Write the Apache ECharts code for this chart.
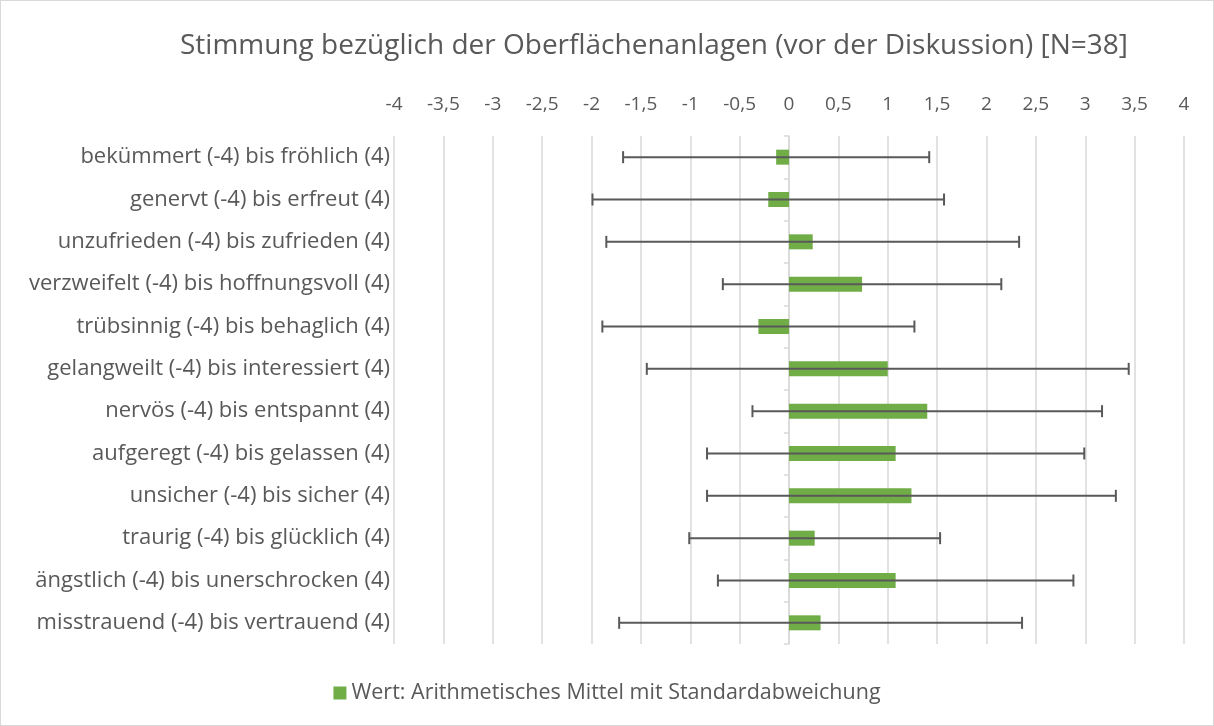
<!DOCTYPE html>
<html>
<head>
<meta charset="utf-8">
<script src="https://cdn.jsdelivr.net/npm/echarts@6/dist/echarts.min.js"></script>
<style>
	html, body { margin: 0; padding: 0; background: #fff; }
	#chart { width: 1212px; height: 724px; border: 1px solid #d9d9d9; }
</style>
</head>
<body>
<div id="chart"></div>
<script>
"use strict";
// Kategorien (von oben nach unten)
var categories = [ 'bekümmert (-4) bis fröhlich (4)', 'genervt (-4) bis erfreut (4)',
		'unzufrieden (-4) bis zufrieden (4)', 'verzweifelt (-4) bis hoffnungsvoll (4)',
		'trübsinnig (-4) bis behaglich (4)', 'gelangweilt (-4) bis interessiert (4)',
		'nervös (-4) bis entspannt (4)', 'aufgeregt (-4) bis gelassen (4)',
		'unsicher (-4) bis sicher (4)', 'traurig (-4) bis glücklich (4)',
		'ängstlich (-4) bis unerschrocken (4)', 'misstrauend (-4) bis vertrauend (4)' ];

// Arithmetisches Mittel
var means = [ -0.13, -0.21, 0.24, 0.74, -0.31, 1.0, 1.4, 1.08, 1.24, 0.26, 1.08, 0.32 ];

// Standardabweichung
var sds = [ 1.55, 1.78, 2.09, 1.41, 1.58, 2.44, 1.77, 1.91, 2.07, 1.27, 1.8, 2.04 ];

var seriesName = 'Wert: Arithmetisches Mittel mit Standardabweichung';
var titleText = 'Stimmung bezüglich der Oberflächenanlagen (vor der Diskussion) [N=38]';

var font = 'Open Sans';
var textColor = '#595959';

var errData = categories.map(function(c, i) {
	return [ i, means[i] - sds[i], means[i] + sds[i] ];
});

function renderErr(params, api) {
	var y = api.value(0);
	var lo = api.coord([ api.value(1), y ]);
	var hi = api.coord([ api.value(2), y ]);
	var h = 6;
	var st = { stroke : '#595959', lineWidth : 2 };
	return {
		type : 'group',
		children : [
			{ type : 'line', shape : { x1 : lo[0], y1 : lo[1], x2 : hi[0], y2 : hi[1] }, style : st },
			{ type : 'line', shape : { x1 : lo[0], y1 : lo[1] - h, x2 : lo[0], y2 : lo[1] + h }, style : st },
			{ type : 'line', shape : { x1 : hi[0], y1 : hi[1] - h, x2 : hi[0], y2 : hi[1] + h }, style : st }
		]
	};
}

var chart = echarts.init(document.getElementById('chart'));
var option = {
	animation : false,
	textStyle : { fontFamily : font },
	title : {
		text : titleText,
		left : 648,
		top : 26,
		textAlign : 'center',
		textStyle : { fontFamily : font, fontSize : 28, fontWeight : 'normal', color : textColor }
	},
	legend : {
		data : [ seriesName ],
		bottom : 16,
		left : 'center',
		icon : 'rect',
		itemWidth : 13,
		itemHeight : 13,
		itemGap : 6,
		textStyle : { fontFamily : font, fontSize : 21.5, color : textColor }
	},
	grid : { left : 393, right : 29, top : 135, bottom : 81 },
	xAxis : {
		type : 'value',
		position : 'top',
		min : -4,
		max : 4,
		interval : 0.5,
		axisLine : { show : false },
		axisTick : { show : false },
		axisLabel : {
			fontFamily : font,
			fontSize : 19,
			color : textColor,
			margin : 22,
			formatter : function(v) { return String(v).replace('.', ','); }
		},
		splitLine : { lineStyle : { color : '#d9d9d9', width : 1.5 } }
	},
	yAxis : [ {
		type : 'category',
		data : categories,
		inverse : true,
		axisLine : { show : false, onZero : false },
		axisTick : { show : false },
		axisLabel : { fontFamily : font, fontSize : 22, color : textColor, margin : 4 }
	}, {
		type : 'category',
		data : categories,
		inverse : true,
		axisLine : { show : true, onZero : true, lineStyle : { color : '#d9d9d9', width : 1.5 } },
		axisTick : { show : true, inside : true, length : 5, lineStyle : { color : '#d9d9d9', width : 1.5 } },
		axisLabel : { show : false }
	} ],
	series : [ {
		name : seriesName,
		type : 'bar',
		data : means,
		barWidth : 15,
		itemStyle : { color : '#70ad47' }
	}, {
		name : 'err',
		type : 'custom',
		data : errData,
		renderItem : renderErr,
		encode : { x : [ 1, 2 ], y : 0 },
		z : 5
	} ]
};
chart.setOption(option);
</script>
</body>
</html>
